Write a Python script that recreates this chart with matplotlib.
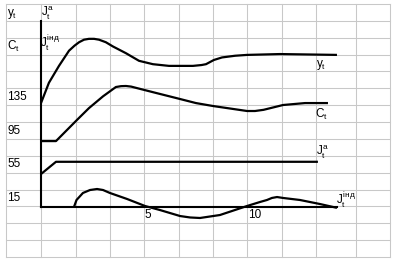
"""
Multiplier-accelerator sketch: y_t, C_t, J_t^a, J_t^інд over time,
drawn on a spreadsheet-like cell grid.
"""

import matplotlib
matplotlib.use("Agg")
import matplotlib.pyplot as plt

plt.rcParams["font.family"] = ["Liberation Sans", "DejaVu Sans"]
plt.rcParams["mathtext.fontset"] = "custom"
plt.rcParams["mathtext.rm"] = "Liberation Sans"
plt.rcParams["mathtext.it"] = "Liberation Sans"

# ── Series (t, value) ─────────────────────────────────────────────────────
T_Y = [0, 0.37, 0.84, 1.31, 1.57, 1.78, 2.01, 2.24, 2.48, 2.71, 3.03, 3.36,
       3.97, 4.58, 5.23, 5.98, 7.10, 7.50, 7.71, 8.08, 8.46, 9.07, 9.63,
       11.17, 13.83]
Y   = [123, 147, 167, 185, 191, 195, 198, 199, 199, 198, 195, 190,
       182, 173, 169, 167, 167, 168, 169, 174, 177, 179, 180,
       181, 180]

T_C = [0, 0.70, 1.68, 2.24, 2.90, 3.50, 3.74, 3.97, 4.21, 4.44, 5.37, 6.31,
       7.24, 8.04, 9.63, 10.0, 10.4, 11.31, 12.34, 13.41]
C   = [78, 78, 103, 117, 131, 142, 143, 143.2, 142.5, 141, 135, 129,
       123, 119.5, 113.6, 113.6, 115, 120.7, 123, 123]

T_JA = [0, 0.70, 12.94]
JA   = [39, 53.5, 53.5]

T_JI = [1.54, 1.66, 1.96, 2.29, 2.62, 2.90, 3.22, 4.02, 4.86, 5.56, 6.50,
        6.97, 7.43, 8.36, 9.63, 10.23, 10.56, 10.79, 11.03, 11.31, 12.10,
        13.04, 13.83]
JI   = [0, 8.3, 16.6, 20.1, 21.3, 20.1, 16.6, 9.5, 1.2, -3.6, -10.7,
        -12.4, -13, -9.5, 1.2, 5.9, 8.3, 10.7, 11.8, 10.7, 8.3,
        3.5, -1]

ROW_LABELS = ["135", "95", "55", "15"]
ROW_VALUES = [135, 95, 55, 15]
X_TICKS = [5, 10]

# ── pixel <-> data mapping of the picture ────────────────────────────────
W, H = 395, 263
X0, SX = 41, 21.4      # t = 0 at px 41, 21.4 px per period
Y0, SY = 207, 0.845    # value 0 at py 207


def tx(px):
    return (px - X0) / SX


def vy(py):
    return (Y0 - py) / SY


COLS = [6, 41, 76, 110, 144, 179, 213, 247, 282, 316, 356, 390]
ROWS = [4 + 16.87 * k for k in range(16)]

fig = plt.figure(figsize=(W / 100, H / 100), dpi=100)
ax = fig.add_axes([0, 0, 1, 1])
ax.set_xlim(tx(0), tx(W))
ax.set_ylim(vy(H), vy(0))
ax.axis("off")

# cell grid
for c in COLS:
    ax.plot([tx(c), tx(c)], [vy(ROWS[0]), vy(ROWS[-1])],
            color="#c8c8c8", lw=0.75, zorder=1)
for r in ROWS:
    ax.plot([tx(COLS[0]), tx(COLS[-1])], [vy(r), vy(r)],
            color="#c8c8c8", lw=0.75, zorder=1)

# axes lines
ax.plot([0, 0], [0, vy(21)], color="black", lw=1.5, zorder=3)
ax.plot([0, T_JI[-1]], [0, 0], color="black", lw=1.5, zorder=3)

# curves
for t, v in [(T_Y, Y), (T_C, C), (T_JA, JA), (T_JI, JI)]:
    ax.plot(t, v, color="black", lw=1.6, zorder=4,
            solid_capstyle="butt", solid_joinstyle="round")

fs = 8.5
for lab, val in zip(ROW_LABELS, ROW_VALUES):
    ax.text(tx(7), val - 4.7, lab, fontsize=fs, ha="left", va="center")
for xt in X_TICKS:
    ax.text(xt, vy(215), str(xt), fontsize=fs, ha="center", va="center")

# left-hand legend cells
ax.text(tx(7), vy(14), r"$y_t$", fontsize=fs, ha="left", va="center")
ax.text(tx(7), vy(46), r"$C_t$", fontsize=fs, ha="left", va="center")
ax.text(tx(41), vy(13), r"$J_t^{a}$", fontsize=fs, ha="left", va="center")
ax.text(tx(40), vy(43), r"$J_t^{\mathrm{інд}}$", fontsize=fs,
        ha="left", va="center")

# curve end labels
ax.text(tx(316), vy(65), r"$y_t$", fontsize=fs, ha="left", va="center")
ax.text(tx(315), vy(114), r"$C_t$", fontsize=fs, ha="left", va="center")
ax.text(tx(316), vy(152), r"$J_t^{a}$", fontsize=fs, ha="left", va="center")
ax.text(tx(336), vy(200), r"$J_t^{\mathrm{інд}}$", fontsize=fs,
        ha="left", va="center")

fig.savefig("out.png", dpi=100)
